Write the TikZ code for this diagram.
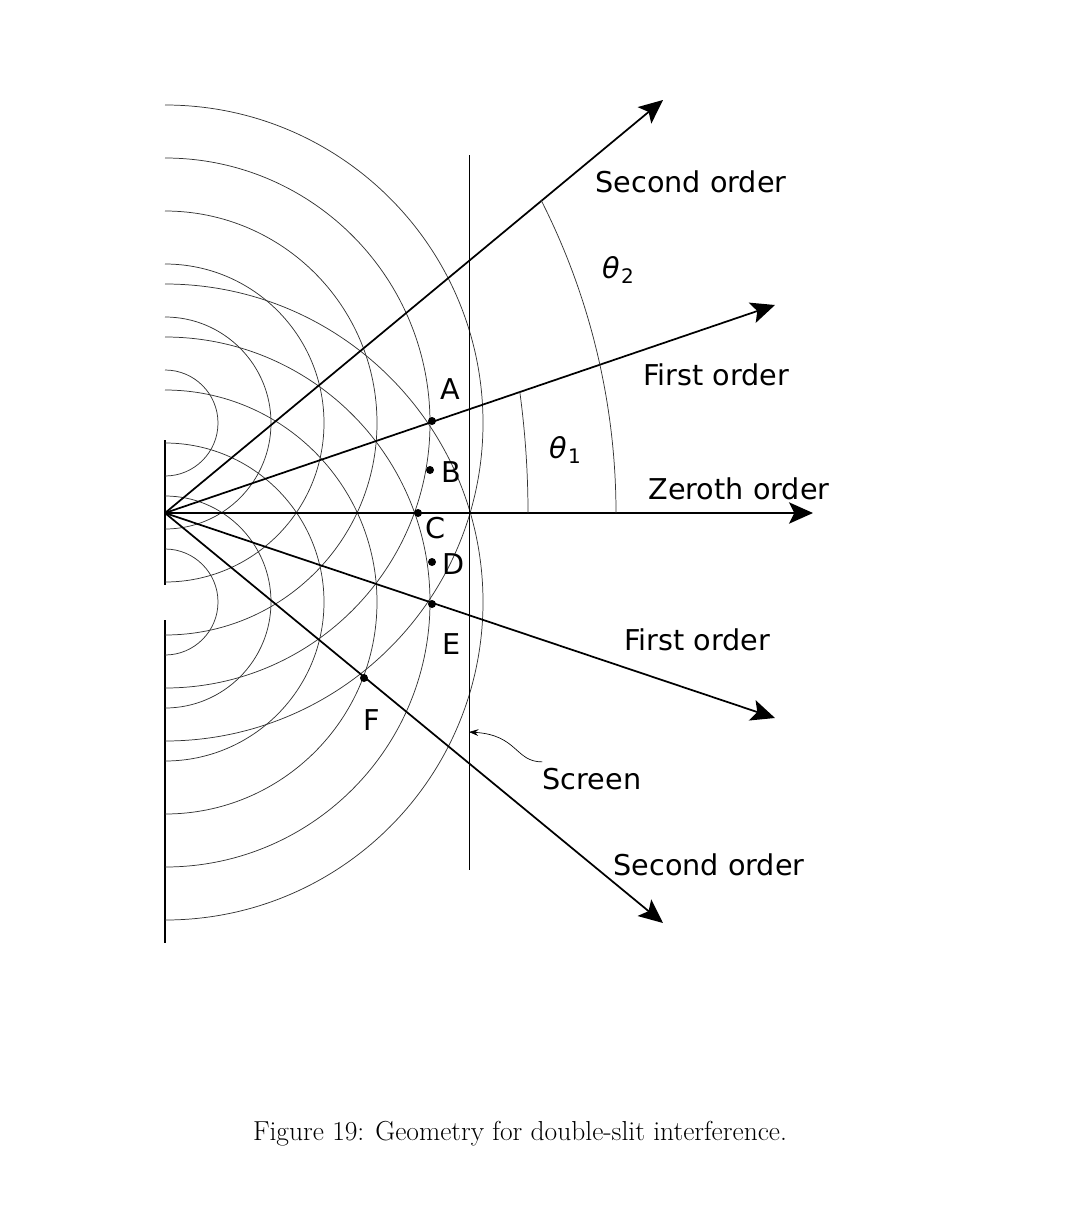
\documentclass[tikz,border=0pt]{standalone}
\usepackage{fontspec}
\setsansfont{DejaVu Sans}
\usetikzlibrary{arrows.meta}
\begin{document}
\begin{tikzpicture}[x=0.75pt,y=-0.75pt,
  wave/.style={line width=0.55pt,black!80},
  ray/.style={line width=1.3pt,-{Stealth[length=18pt,width=16pt,inset=4pt]}},
  lbl/.style={font=\sffamily\fontsize{21.5}{24}\selectfont,inner sep=0pt},
  pt/.style={circle,fill=black,inner sep=0pt,minimum size=6pt}]
\useasboundingbox (0,0) rectangle (1078,1207);
\coordinate (S1) at (165,423);
\coordinate (S2) at (165,602);
\coordinate (O) at (165,513);
% barrier
\draw[line width=0.9pt] (165,440) -- (165,585);
\draw[line width=0.9pt] (165,620) -- (165,943);
% wavefronts
\foreach \r in {53,106,159,212,265,318}{
  \draw[wave] (S1) ++(0,-\r) arc[start angle=-90,end angle=90,radius=\r];
  \draw[wave] (S2) ++(0,-\r) arc[start angle=-90,end angle=90,radius=\r];
}
% screen
\coordinate (ST) at (469,155);
\coordinate (SB) at (469,870);
\draw[line width=0.7pt] (ST) -- (SB);
% rays
\coordinate (R2u) at (663,100);
\coordinate (R1u) at (775,305);
\coordinate (R0) at (813,513);
\coordinate (R1d) at (775,718);
\coordinate (R2d) at (663,923);
\foreach \e in {R2u,R1u,R0,R1d,R2d} \draw[ray] (O) -- (\e);
% angle arcs
\draw[wave] (616,513) arc[start angle=0,end angle=-26.9,radius=691];
\draw[wave] (528,513) arc[start angle=0,end angle=-7.7,radius=904];
% points
\node[pt] (A) at (432,421) {};
\node[pt] (B) at (430,470) {};
\node[pt] (C) at (418,513) {};
\node[pt] (D) at (432,562) {};
\node[pt] (E) at (432,604) {};
\node[pt] (F) at (364,678) {};
\node[lbl] at (450,389) {A};
\node[lbl] at (451,472) {B};
\node[lbl] at (436,528) {C};
\node[lbl] at (454,564) {D};
\node[lbl] at (452,644) {E};
\node[lbl] at (372,720) {F};
\node[lbl] at (618,270) {\itshape θ\kern1pt\raisebox{-0.35ex}{\fontsize{15}{17}\selectfont\upshape 2}};
\node[lbl] at (565,450) {\itshape θ\kern1pt\raisebox{-0.35ex}{\fontsize{15}{17}\selectfont\upshape 1}};
% order labels
\node[lbl] at (691,182) {Second order};
\node[lbl] at (716,375) {First order};
\node[lbl] at (739,489) {Zeroth order};
\node[lbl] at (697,640) {First order};
\node[lbl] (scr) at (592,779) {Screen};
\node[lbl] at (709,865) {Second order};
\coordinate (SP) at (469,732);
\draw[line width=0.5pt,-{Stealth[length=7pt,width=5pt]}] (scr.north west) ++(0,-6) .. controls (515,762) and (518,735) .. (SP);
% caption
\node[font=\fontsize{20.6}{24}\selectfont,inner sep=0pt] (cap) at (520,1134) {Figure 19: Geometry for double-slit interference.};
\end{tikzpicture}
\end{document}
